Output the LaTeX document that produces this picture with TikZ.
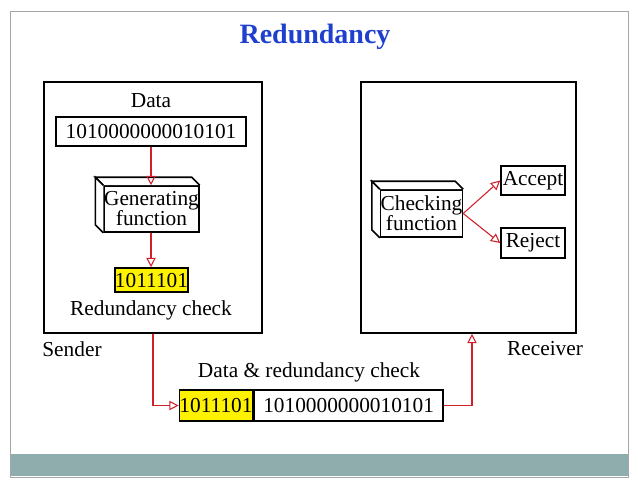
\documentclass[tikz,border=0pt]{standalone}
\usepackage{fontspec}
\setmainfont{Liberation Serif}
\usetikzlibrary{arrows.meta,positioning}
\definecolor{band}{HTML}{8FADAD}
\definecolor{titleblue}{HTML}{1F3FCF}
\definecolor{linkred}{HTML}{D0202A}
\tikzset{
  block/.style = {draw, line width=1.2pt, inner sep=0pt, font=\fontsize{16}{16}\selectfont},
  lbl/.style = {inner sep=0pt, font=\fontsize{16}{16}\selectfont},
  arrow/.style = {draw=linkred, line width=0.8pt, -{Triangle[open,length=7pt,width=7pt]}},
  link/.style = {draw=linkred, line width=0.8pt}
}
\begin{document}
\begin{tikzpicture}[x=0.75pt,y=-0.75pt]
  \useasboundingbox (0,0) rectangle (638,487);
  % slide frame and band
  \fill[band] (10,454) rectangle (628,476);
  \draw[gray!70, line width=0.6pt] (10,11) rectangle (628,477);
  \node[font=\fontsize{21}{21}\selectfont\bfseries, text=titleblue] (title) at (315,37) {Redundancy};

  % Sender and receiver
  \node[block, minimum width=218*0.75pt, minimum height=251*0.75pt] (sender) at (153,207.5) {};
  \node[block, minimum width=215*0.75pt, minimum height=251*0.75pt] (receiver) at (468.5,207.5) {};
  \node[lbl] (sendlbl) at (72,349) {Sender};
  \node[lbl] (recvlbl) at (545,349) {Receiver};

  % Sender side
  \node[lbl] (datalbl) at (151,101) {Data};
  \node[block, minimum width=190*0.75pt, minimum height=29*0.75pt] (data) at (151,131.5) {1010000000010101};
  \node[block, fill=white, minimum width=89*0.75pt, minimum height=46*0.75pt, align=center,
        font=\fontsize{16}{15}\selectfont] (gen) at (151.5,209) {Generating\\function};
  \draw[line width=1.2pt, fill=white] (gen.north west) -- ++(-8,-8) -- ([xshift=-8*0.75pt,yshift=8*0.75pt]gen.north east) -- (gen.north east);
  \draw[line width=1.2pt, fill=white] (gen.north west) -- ++(-8,-8) -- ([xshift=-8*0.75pt,yshift=8*0.75pt]gen.south west) -- (gen.south west);
  \node[block, fill=yellow, minimum width=73*0.75pt, minimum height=24*0.75pt] (check) at (151.5,280) {1011101};
  \node[lbl] (checklbl) at (151,310) {Redundancy check};
  \draw[arrow] (data) -- (gen.north -| data);
  \draw[arrow] (gen.south -| data) -- (check.north -| data);

  % Receiver side
  \node[block, fill=white, minimum width=79*0.75pt, minimum height=47*0.75pt, align=center,
        font=\fontsize{16}{15}\selectfont] (chk) at (421.5,213.5) {Checking\\function};
  \draw[line width=1.2pt, fill=white] (chk.north west) -- ++(-8,-8) -- ([xshift=-8*0.75pt,yshift=8*0.75pt]chk.north east) -- (chk.north east);
  \draw[line width=1.2pt, fill=white] (chk.north west) -- ++(-8,-8) -- ([xshift=-8*0.75pt,yshift=8*0.75pt]chk.south west) -- (chk.south west);
  \node[block, minimum width=64*0.75pt, minimum height=29*0.75pt] (accept) at (533,180.5) {Accept};
  \node[block, minimum width=64*0.75pt, minimum height=30*0.75pt] (reject) at (533,243) {Reject};
  \draw[arrow] (chk.east) -- (accept.west);
  \draw[arrow] (chk.east) -- (reject.west);

  % Transmitted unit
  \node[lbl] (sentlbl) at (309,372) {Data \& redundancy check};
  \node[block, fill=yellow, minimum width=72*0.75pt, minimum height=31*0.75pt] (sentcheck) at (216,405.5) {1011101};
  \node[block, anchor=west, minimum width=189*0.75pt, minimum height=31*0.75pt] (sentdata) at (sentcheck.east) {1010000000010101};
  \coordinate (dropleft) at (153,405.5);
  \coordinate (riseright) at (472,405.5);
  \draw[arrow] (sender.south -| dropleft) -- (dropleft) -- (sentcheck.west);
  \draw[arrow] (sentdata.east) -- (riseright) -- (receiver.south -| riseright);
\end{tikzpicture}
\end{document}
